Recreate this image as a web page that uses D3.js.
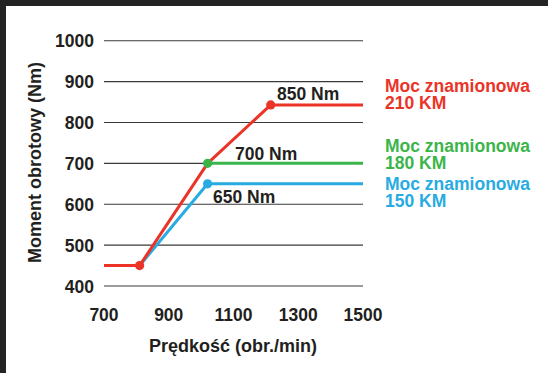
<!DOCTYPE html>
<html><head><meta charset="utf-8">
<script src="https://cdn.jsdelivr.net/npm/d3@7"></script>
<style>
html,body{margin:0;padding:0;background:#fff;}
svg{display:block;}
text{font-family:"Liberation Sans",Arial,Helvetica,sans-serif;font-weight:bold;}
</style></head>
<body>
<script>
const yTicks = [400, 500, 600, 700, 800, 900, 1000];
const xTicks = [700, 900, 1100, 1300, 1500];
const red = [[700, 450], [810, 450], [1020, 700], [1215, 843], [1500, 843]];
const green = [[1020, 700], [1500, 700]];
const blue = [[810, 450], [1020, 650], [1500, 650]];
const redDots = [[810, 450], [1215, 843]];
const greenDots = [[1020, 700]];
const blueDots = [[1020, 650]];
const valueLabels = ["850 Nm", "700 Nm", "650 Nm"];
const seriesLabels = [["Moc znamionowa", "210 KM"], ["Moc znamionowa", "180 KM"], ["Moc znamionowa", "150 KM"]];
const colors = ["#ec3327", "#3bb54a", "#28abe2"];

const W = 548, H = 373;
const svg = d3.select("body").append("svg").attr("width", W).attr("height", H);
svg.append("rect").attr("width", W).attr("height", H).attr("fill", "#fff");
// dark frame top and left
svg.append("rect").attr("x", 0).attr("y", 0).attr("width", W).attr("height", 6).attr("fill", "#232323");
svg.append("rect").attr("x", 0).attr("y", 0).attr("width", 6).attr("height", H).attr("fill", "#232323");

const x = d3.scaleLinear().domain([700, 1500]).range([104, 363]);
const y = d3.scaleLinear().domain([400, 1000]).range([286, 40.7]);
const ink = "#231f20";

// grid
svg.append("g").selectAll("line").data(yTicks).join("line")
  .attr("x1", x(700)).attr("x2", x(1500))
  .attr("y1", d => y(d)).attr("y2", d => y(d))
  .attr("stroke", "#3a3a3a").attr("stroke-width", 1.1);

// y tick labels
svg.append("g").selectAll("text").data(yTicks).join("text")
  .attr("x", 94).attr("y", d => y(d) + 6.5)
  .attr("text-anchor", "end").attr("font-size", 17.5).attr("fill", ink)
  .text(d => d);

// x tick labels
svg.append("g").selectAll("text").data(xTicks).join("text")
  .attr("x", d => x(d)).attr("y", 321)
  .attr("text-anchor", "middle").attr("font-size", 17.5).attr("fill", ink)
  .text(d => d);

// axis titles
svg.append("text").attr("transform", "translate(41,162.5) rotate(-90)")
  .attr("text-anchor", "middle").attr("font-size", 18).attr("fill", ink)
  .text("Moment obrotowy (Nm)");
svg.append("text").attr("x", 233).attr("y", 352)
  .attr("text-anchor", "middle").attr("font-size", 18).attr("fill", ink)
  .text("Prędkość (obr./min)");

const line = d3.line().x(d => x(d[0])).y(d => y(d[1]));
[[blue, 2], [green, 1], [red, 0]].forEach(([data, i]) => {
  svg.append("path").datum(data).attr("d", line)
    .attr("fill", "none").attr("stroke", colors[i]).attr("stroke-width", 3)
    .attr("stroke-linejoin", "round");
});
[[redDots, 0], [greenDots, 1], [blueDots, 2]].forEach(([data, i]) => {
  svg.append("g").selectAll("circle").data(data).join("circle")
    .attr("cx", d => x(d[0])).attr("cy", d => y(d[1])).attr("r", 4.6)
    .attr("fill", colors[i]);
});

// value labels
const vPos = [[277, 99.5], [235, 159.5], [213, 202.5]];
svg.append("g").selectAll("text").data(valueLabels).join("text")
  .attr("x", (d, i) => vPos[i][0]).attr("y", (d, i) => vPos[i][1])
  .attr("font-size", 17.5).attr("fill", ink).text(d => d);

// series labels (one text element per label, two lines)
const sY = [91.7, 151.7, 189.5];
seriesLabels.forEach((lines, i) => {
  const t = svg.append("text").attr("x", 385).attr("y", sY[i])
    .attr("font-size", 17.5).attr("fill", colors[i]);
  t.selectAll("tspan").data(lines).join("tspan")
    .attr("x", 385).attr("y", (d, j) => sY[i] + j * 17.6)
    .text(d => d);
});
</script>
</body></html>
